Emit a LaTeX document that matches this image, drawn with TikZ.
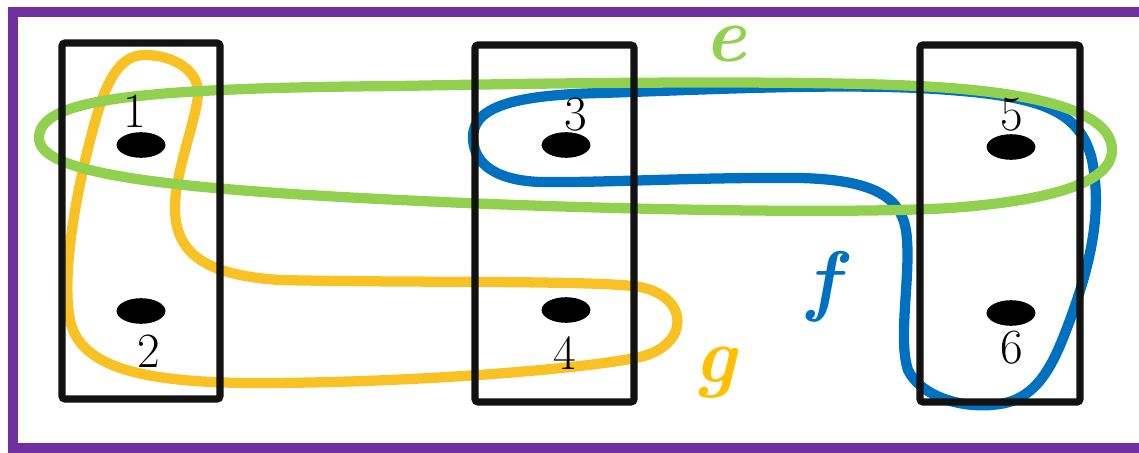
\documentclass[tikz,border=0pt]{standalone}
\usepackage{amsmath, amssymb}
\usepackage{tikz}
\usetikzlibrary{shapes.geometric}

\definecolor{hpurple}{HTML}{7030A0}
\definecolor{hgreen}{HTML}{92D050}
\definecolor{hblue}{HTML}{0070C0}
\definecolor{hyellow}{HTML}{F8C124}
\definecolor{hgold}{HTML}{FFC000}

\begin{document}
\begin{tikzpicture}[
    x=0.025cm, y=-0.025cm,
    frame/.style={draw=hpurple, line width=7pt},
    part/.style={draw=black!93, line width=5pt, rounded corners=2pt},
    vertex/.style={ellipse, fill=black, minimum width=1.22cm, minimum height=0.64cm, inner sep=0pt},
    num/.style={font=\fontsize{35}{40}\selectfont, inner sep=0pt},
    edgelbl/.style={font=\fontsize{56}{60}\selectfont\bfseries\itshape, inner sep=0pt},
    hedge/.style={line width=7.3pt, line join=round}
]
    \useasboundingbox (0,0) rectangle (1139,453);
    \draw[frame] (13,12) rectangle (1160,448);

    \draw[hedge, hyellow] (145,55) .. controls (175,55) and (200,72) .. (198,95)
        .. controls (196,120) and (176,170) .. (175,205)
        .. controls (174,250) and (200,275) .. (280,280)
        .. controls (400,283) and (600,280) .. (640,287)
        .. controls (690,297) and (690,345) .. (640,357)
        .. controls (580,370) and (400,383) .. (260,383)
        .. controls (150,383) and (80,370) .. (70,320)
        .. controls (60,270) and (80,170) .. (100,105)
        .. controls (112,70) and (125,55) .. (145,55) -- cycle;
    \draw[hedge, hblue] (473,137) .. controls (473,105) and (520,95) .. (600,93)
        .. controls (700,90) and (850,82) .. (950,90)
        .. controls (1040,97) and (1080,110) .. (1092,160)
        .. controls (1102,210) and (1092,260) .. (1070,320)
        .. controls (1055,360) and (1040,398) .. (1000,404)
        .. controls (960,410) and (920,395) .. (908,370)
        .. controls (898,340) and (910,280) .. (907,240)
        .. controls (905,200) and (880,180) .. (800,178)
        .. controls (700,177) and (600,183) .. (540,182)
        .. controls (490,180) and (473,160) .. (473,137) -- cycle;
    \draw[hedge, hgreen] (39,138) .. controls (39,100) and (130,88) .. (400,86)
        .. controls (600,82) and (850,80) .. (950,88)
        .. controls (1080,98) and (1112,125) .. (1112,150)
        .. controls (1112,180) and (1060,200) .. (950,208)
        .. controls (850,214) and (600,210) .. (400,200)
        .. controls (150,188) and (39,172) .. (39,138) -- cycle;

    \draw[part] (62,43) rectangle (220,399);
    \draw[part] (475,45) rectangle (634,402);
    \draw[part] (920,45) rectangle (1080,402);

    \node[vertex] (v1) at (141,145) {};
    \node[vertex] (v2) at (141,311) {};
    \node[vertex] (v3) at (566,145) {};
    \node[vertex] (v4) at (566,310) {};
    \node[vertex] (v5) at (1011,147) {};
    \node[vertex] (v6) at (1011,313) {};

    \node[num] (l1) at (135,111) {1};
    \node[num] (l2) at (149,351) {2};
    \node[num] (l3) at (576,115) {3};
    \node[num] (l4) at (565,353) {4};
    \node[num] (l5) at (1012,115) {5};
    \node[num] (l6) at (1012,348) {6};

    \node[edgelbl, text=hgreen] (le) at (725,44) {e};
    \node[edgelbl, text=hblue] (lf) at (823,287) {f};
    \node[edgelbl, text=hgold] (lg) at (715,373) {g};
\end{tikzpicture}
\end{document}
